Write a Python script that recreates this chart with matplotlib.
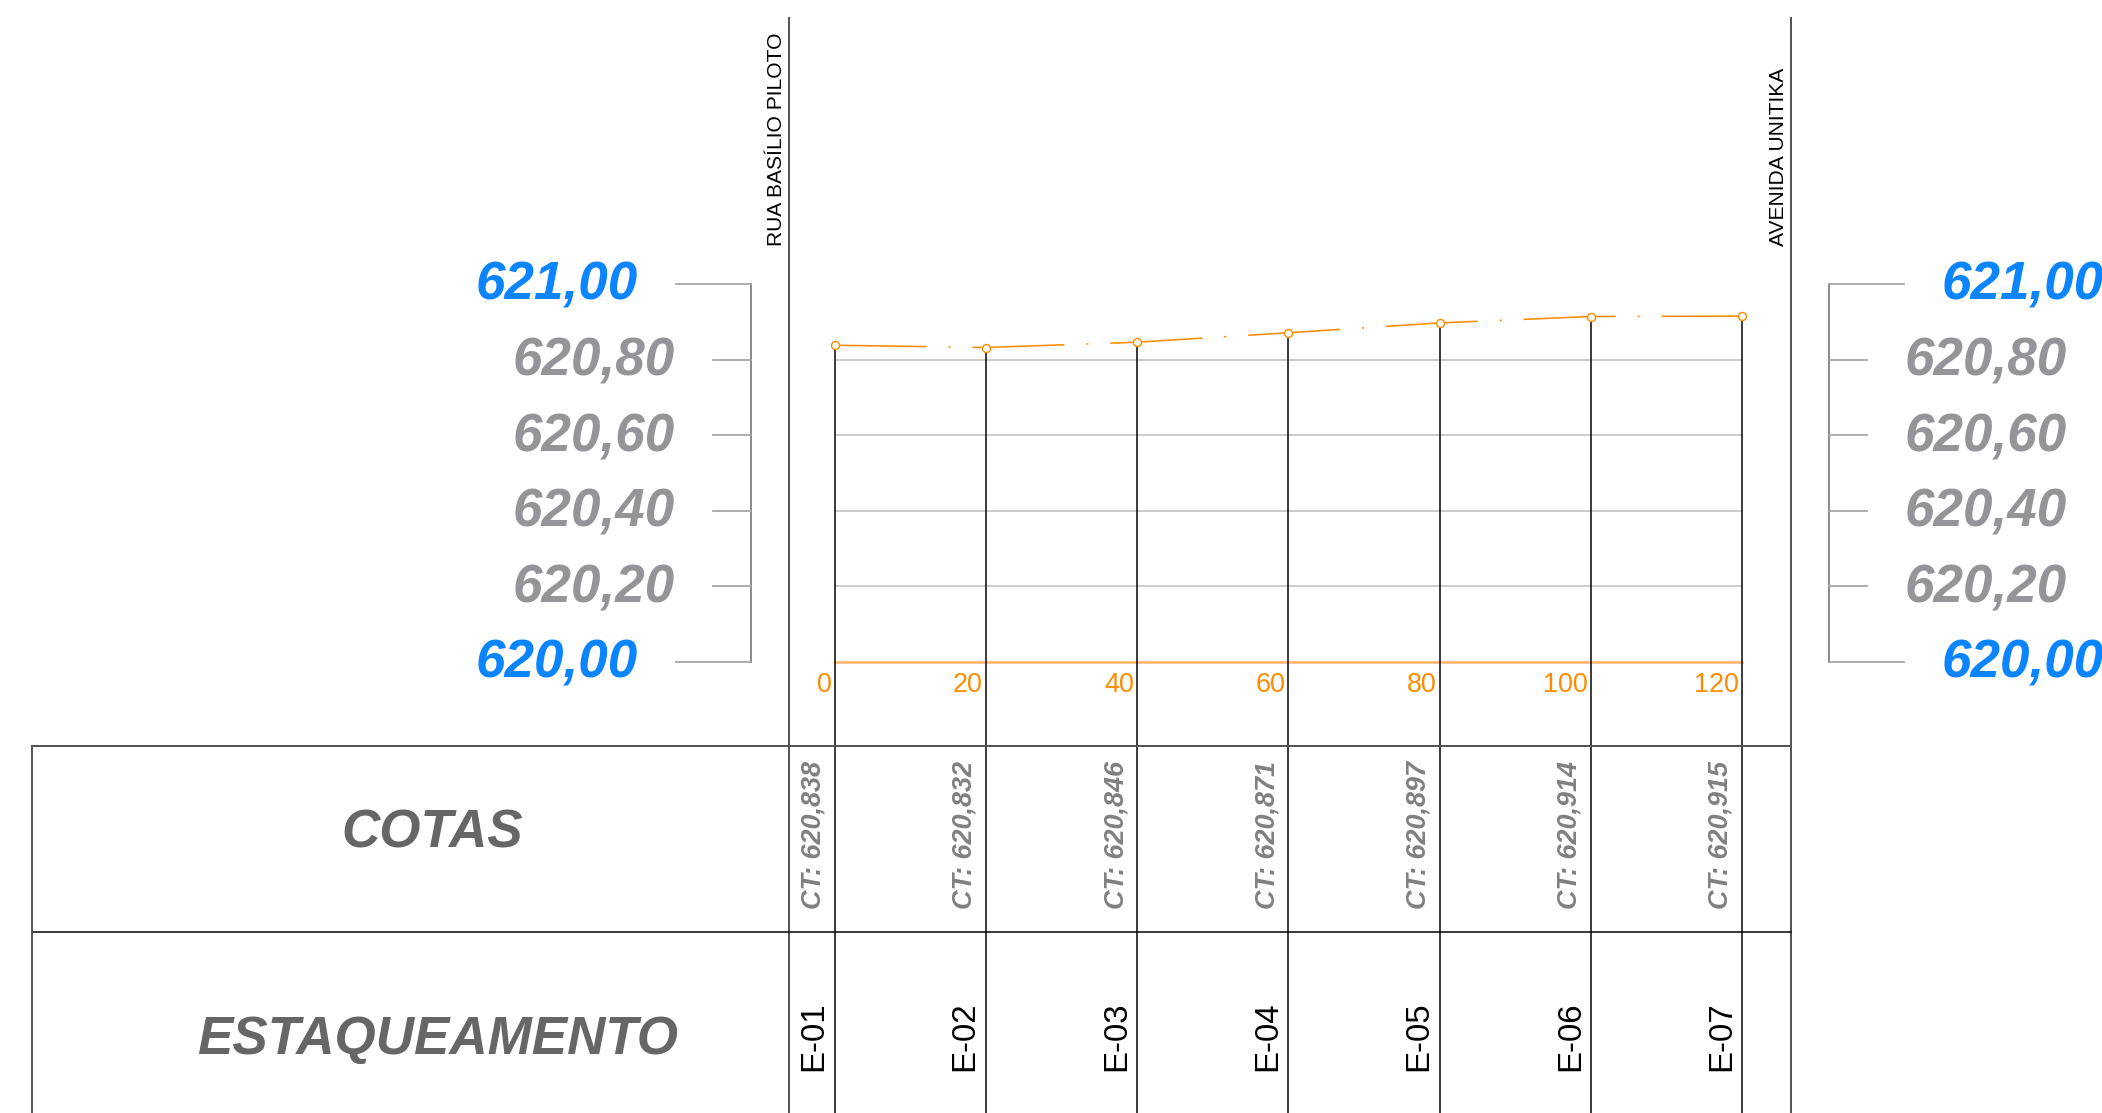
import matplotlib.pyplot as plt
from matplotlib.lines import Line2D
from matplotlib.transforms import Affine2D, blended_transform_factory

# dados do perfil
distancias = [0, 20, 40, 60, 80, 100, 120]
cotas = [620.838, 620.832, 620.846, 620.871, 620.897, 620.914, 620.915]
estacas = ['E-01', 'E-02', 'E-03', 'E-04', 'E-05', 'E-06', 'E-07']
escala = [620.00, 620.20, 620.40, 620.60, 620.80, 621.00]
ruas = ['RUA BASÍLIO PILOTO', 'AVENIDA UNITIKA']
linhas_tabela = ['COTAS', 'ESTAQUEAMENTO']

W, H = 2102, 1113
DPI = 72  # 1 pt = 1 px

LARANJA = '#ff8c00'
AZUL = '#0a84ff'
CINZA = '#939598'
FONTE = 'Liberation Sans'

fig = plt.figure(figsize=(W / DPI, H / DPI), dpi=DPI)
# pixel coords, origin at top left
px = Affine2D().scale(1 / W, -1 / H).translate(0, 1) + fig.transFigure

ax = fig.add_axes([834.5 / W, 1 - 662 / H, (1742 - 834.5) / W, (662 - 284) / H])
ax.set_xlim(distancias[0], distancias[-1])
ax.set_ylim(escala[0], escala[-1])
ax.axis('off')


def linha(xs, ys, transform=px, **kw):
    fig.add_artist(Line2D(xs, ys, transform=transform, **kw))


def fmt(v, casas):
    return f'{v:.{casas}f}'.replace('.', ',')


# grade e linha de base
for v in escala[1:-1]:
    ax.axhline(v, color='#cccccc', lw=2, zorder=1)
ax.axhline(escala[0], color='#ffb366', lw=2.5, zorder=1, clip_on=False)

# terreno
plt.rcParams['lines.scale_dashes'] = False
ax.plot(distancias, cotas, color=LARANJA, lw=1.6, dashes=(92, 22, 2, 22),
        clip_on=False, zorder=3)

# linhas das estacas ate o fim da folha
y_fim = ax.transData.inverted().transform(px.transform((0, H)))[1]
ax.vlines(distancias, y_fim, cotas, color='black', lw=1.5, clip_on=False, zorder=2)
ax.plot(distancias, cotas, 'o', ms=8, mfc='white', mec=LARANJA, mew=1.4,
        clip_on=False, zorder=4)

# distancias
for d in distancias:
    ax.annotate(str(d), (d, escala[0]), xytext=(-3, -30), textcoords='offset pixels',
                ha='right', va='baseline', color=LARANJA, fontsize=27,
                family=FONTE, annotation_clip=False)

# escalas verticais
bl = blended_transform_factory(px, ax.transData)
for x_eixo, lado in ((751, -1), (1829, 1)):
    linha([x_eixo, x_eixo], [escala[0], escala[-1]], transform=bl,
          color='#8c8c8c', lw=2)
    for v in escala:
        maior = v in (escala[0], escala[-1])
        comp = 75 if maior else 38
        x_fim = x_eixo + lado * comp
        linha([x_eixo, x_fim], [v, v], transform=bl, color='#a6a6a6', lw=1.8)
        ax.annotate(fmt(v, 2), (x_fim + lado * 38, v), xycoords=bl,
                    xytext=(0, -16), textcoords='offset pixels',
                    ha='right' if lado < 0 else 'left', va='baseline',
                    color=AZUL if maior else CINZA, fontsize=53,
                    family=FONTE, weight='bold', style='italic',
                    annotation_clip=False)

# ruas
for x_rua, nome in zip((789, 1791), ruas):
    linha([x_rua, x_rua], [18, H], color='#555555', lw=2)
    fig.text(x_rua - 3, 246, nome, transform=px, rotation=90, ha='right',
             va='bottom', fontsize=21, family=FONTE, color='black')

# tabela
linha([32, 1791], [746, 746], color='#555555', lw=2)
linha([32, 1791], [932, 932], color='black', lw=1.5)
linha([32, 32], [746, H], color='#555555', lw=2)
fig.text(432, 848, linhas_tabela[0], transform=px, ha='center', va='baseline',
         fontsize=53, family=FONTE, weight='bold', style='italic', color='#666666')
fig.text(438, 1054, linhas_tabela[1], transform=px, ha='center', va='baseline',
         fontsize=53, family=FONTE, weight='bold', style='italic', color='#666666')

bt = blended_transform_factory(ax.transData, px)
for d, c, e in zip(distancias, cotas, estacas):
    ax.annotate('CT: ' + fmt(c, 3), (d, 835), xycoords=bt, xytext=(-8, 0),
                textcoords='offset pixels', rotation=90, ha='right', va='center',
                fontsize=27, family=FONTE, weight='bold', style='italic',
                color='#808080', annotation_clip=False)
    ax.annotate(e, (d, 1036), xycoords=bt, xytext=(-5, 0),
                textcoords='offset pixels', rotation=90, ha='right', va='center',
                fontsize=33, family=FONTE, color='black', annotation_clip=False)

fig.savefig('out.png', dpi=DPI, facecolor='white')
